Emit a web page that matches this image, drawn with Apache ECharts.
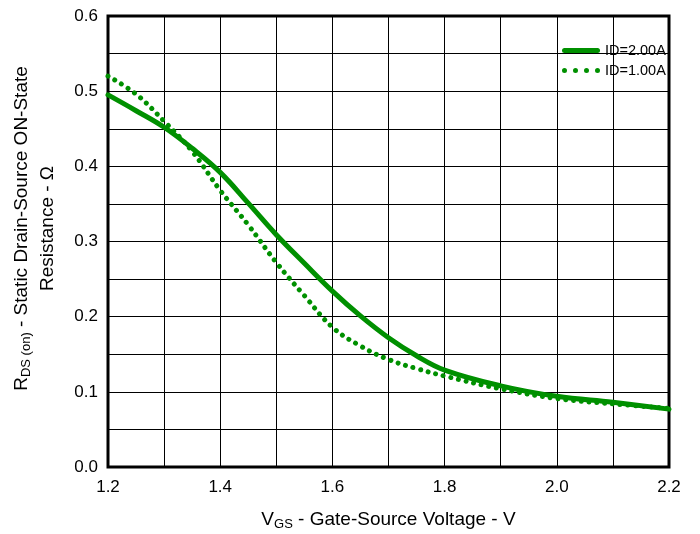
<!DOCTYPE html>
<html><head><meta charset="utf-8">
<script src="https://cdn.jsdelivr.net/npm/echarts@6/dist/echarts.min.js"></script>
<style>html,body{margin:0;padding:0;background:#fff}#c{width:700px;height:534px}</style>
</head><body><div id="c"></div>
<script>
const vgs = [1.2,1.25,1.3,1.35,1.4,1.45,1.5,1.55,1.6,1.65,1.7,1.75,1.8,1.9,2.0,2.1,2.2];
const id2A = [0.495,0.474,0.452,0.424,0.392,0.351,0.309,0.271,0.234,0.201,0.172,0.148,0.129,0.108,0.094,0.086,0.077];
const id1A = [0.52,0.496,0.46,0.42,0.368,0.322,0.272,0.228,0.186,0.161,0.143,0.131,0.121,0.104,0.091,0.084,0.078];
const seriesNames = ['ID=2.00A','ID=1.00A'];
const green = '#009000';
const font = 'Liberation Sans, Arial, sans-serif';
function circ(cx,cy,r){return 'M'+(cx-r)+' '+cy+'a'+r+' '+r+' 0 1 0 '+(2*r)+' 0a'+r+' '+r+' 0 1 0 '+(-2*r)+' 0Z';}
const solidIcon = 'path://M2.5 0L35.5 0A2.5 2.5 0 0 1 35.5 5L2.5 5A2.5 2.5 0 0 1 2.5 0Z';
const dotIcon = 'path://' + [2.5,13.5,24.5,35.5].map(c=>circ(c,2.5,2.5)).join('');
const chart = echarts.init(document.getElementById('c'));
chart.setOption({
  animation:false,
  grid:{left:108,right:31,top:16,bottom:67,show:true,borderColor:'#000',borderWidth:3,backgroundColor:'transparent',outerBoundsMode:'none',containLabel:false},
  legend:{
    left:562, top:43, orient:'vertical', itemGap:5, itemWidth:38, itemHeight:5, padding:0,
    textStyle:{fontFamily:font,fontSize:14.5,color:'#000',padding:[0,0,0,0]},
    itemStyle:{color:green},
    data:[{name:seriesNames[0],icon:solidIcon},{name:seriesNames[1],icon:dotIcon}]
  },
  xAxis:{
    type:'value', min:1.2, max:2.2, interval:0.2,
    name:'{n|V}{s|GS}{n| - Gate-Source Voltage - V}', nameLocation:'middle', nameGap:42,
    nameTextStyle:{rich:{n:{fontFamily:font,fontSize:19,color:'#000'},s:{fontFamily:font,fontSize:13,color:'#000',padding:[9,0,0,0]}}},
    axisLine:{show:false}, axisTick:{show:false},
    axisLabel:{fontFamily:font,fontSize:17,color:'#000',margin:12,formatter:v=>v.toFixed(1)},
    splitLine:{show:true,lineStyle:{color:'#000',width:1}},
    minorTick:{show:false,splitNumber:2},
    minorSplitLine:{show:true,lineStyle:{color:'#000',width:1}}
  },
  yAxis:{
    type:'value', min:0, max:0.6, interval:0.1,
    name:'{n|R}{s|DS (on)}{n| - Static Drain-Source ON-State}\n{n|Resistance - Ω}', nameLocation:'middle', nameGap:47, nameRotate:90,
    nameTextStyle:{align:'center',lineHeight:26,padding:[0,0,0,26],rich:{n:{fontFamily:font,fontSize:19,color:'#000',lineHeight:26},s:{fontFamily:font,fontSize:13,color:'#000',lineHeight:26,padding:[9,0,0,0]}}},
    axisLine:{show:false}, axisTick:{show:false},
    axisLabel:{fontFamily:font,fontSize:17,color:'#000',margin:10,formatter:v=>v.toFixed(1)},
    splitLine:{show:true,lineStyle:{color:'#000',width:1}},
    minorTick:{show:false,splitNumber:2},
    minorSplitLine:{show:true,lineStyle:{color:'#000',width:1}}
  },
  series:[
    {name:seriesNames[0],type:'line',smooth:0.4,showSymbol:false,symbol:'none',
     data:vgs.map((x,i)=>[x,id2A[i]]),
     itemStyle:{color:green},lineStyle:{color:green,width:5,cap:'round'}},
    {name:seriesNames[1],type:'line',smooth:0.4,showSymbol:false,symbol:'none',
     data:vgs.map((x,i)=>[x,id1A[i]]),
     itemStyle:{color:green},lineStyle:{color:green,width:5,type:[0.01,7.8],cap:'round'}}
  ]
});
</script></body></html>
